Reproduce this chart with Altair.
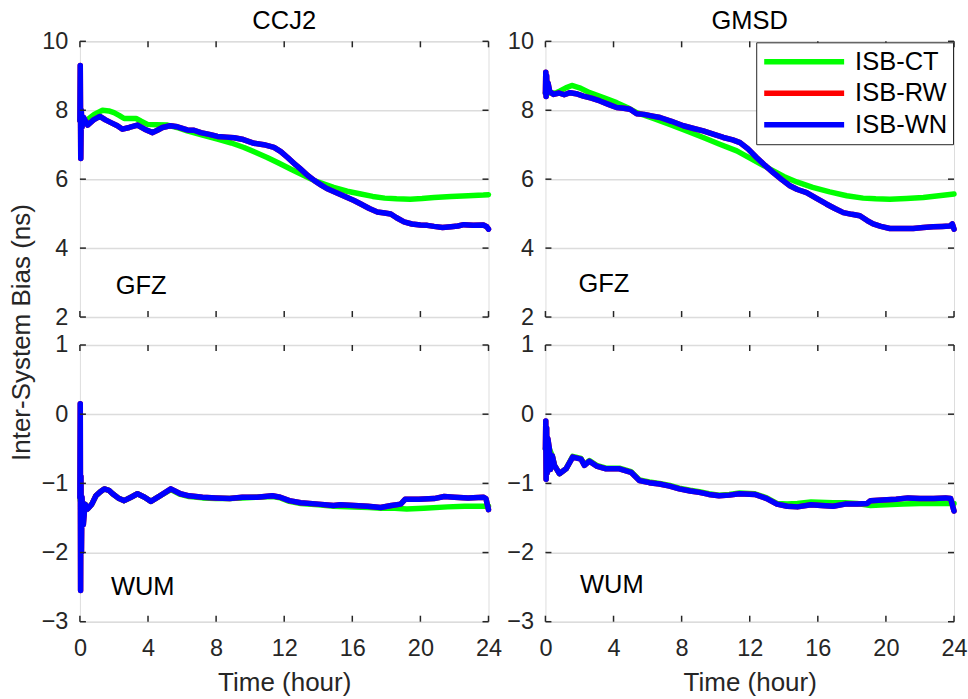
import altair as alt
import pandas as pd

FONT = "Liberation Sans"
INK = "#262626"

stations = ["CCJ2", "GMSD"]
series_names = ["ISB-CT", "ISB-RW", "ISB-WN"]
series_colors = ["#00ff00", "#ff0000", "#0000ff"]
x_ticks = [0, 4, 8, 12, 16, 20, 24]
y_ticks_gfz = [2, 4, 6, 8, 10]
y_ticks_wum = [-3, -2, -1, 0, 1]

# ---- CCJ2 / GFZ ----
ccj2_gfz_ct = [(0, 7.7), (0.1, 7.8), (0.3, 7.7), (0.5, 7.75), (0.84, 7.88), (1.33, 8.0), (1.7, 7.98),
               (2.0, 7.93), (2.3, 7.85), (2.6, 7.76), (3.3, 7.76), (3.6, 7.68), (3.97, 7.59), (4.5, 7.58),
               (5.14, 7.57), (5.7, 7.5), (6.3, 7.4), (7.2, 7.28), (8.08, 7.16), (8.9, 7.05), (9.64, 6.92),
               (10.3, 6.78), (11.0, 6.63), (11.7, 6.46), (12.4, 6.29), (13.1, 6.12), (13.8, 5.95),
               (14.9, 5.76), (15.7, 5.65), (16.5, 5.57), (17.2, 5.5), (17.9, 5.45), (18.6, 5.43),
               (19.4, 5.42), (20.1, 5.44), (20.8, 5.47), (21.8, 5.5), (22.8, 5.52), (23.7, 5.54), (24, 5.55)]
ccj2_gfz_wn = [(0, 7.7), (0.02, 9.3), (0.05, 6.6), (0.08, 8.0), (0.12, 7.5), (0.2, 7.8), (0.45, 7.57),
               (0.8, 7.72), (1.17, 7.82), (1.5, 7.72), (1.82, 7.64), (2.2, 7.55), (2.5, 7.45), (2.9, 7.5),
               (3.38, 7.57), (3.8, 7.45), (4.27, 7.35), (4.55, 7.42), (4.85, 7.5), (5.3, 7.55), (5.73, 7.52),
               (6.3, 7.43), (6.7, 7.42), (7.1, 7.35), (7.6, 7.3), (8.08, 7.24), (8.6, 7.22), (9.06, 7.2),
               (9.6, 7.15), (10.23, 7.04), (10.8, 7.0), (11.4, 6.92), (11.8, 6.8), (12.2, 6.63),
               (12.6, 6.45), (12.97, 6.29), (13.4, 6.1), (13.8, 5.95), (14.2, 5.82), (14.5, 5.73),
               (15.1, 5.6), (15.7, 5.47), (16.1, 5.38), (16.5, 5.28), (17.0, 5.15), (17.47, 5.05),
               (17.9, 5.02), (18.26, 4.99), (18.6, 4.88), (19.04, 4.76), (19.5, 4.7), (20.0, 4.67),
               (20.4, 4.66), (20.8, 4.63), (21.3, 4.6), (21.8, 4.62), (22.2, 4.64), (22.55, 4.68),
               (23.1, 4.66), (23.7, 4.67), (23.9, 4.62), (24, 4.55)]
ccj2_gfz_rw = list(ccj2_gfz_wn)

# ---- GMSD / GFZ ----
gmsd_gfz_ct = [(0, 8.5), (0.3, 8.5), (0.6, 8.5), (0.86, 8.56), (1.2, 8.65), (1.55, 8.72), (2.0, 8.65),
               (2.6, 8.51), (3.4, 8.37), (4.18, 8.22), (4.8, 8.08), (5.36, 7.93), (6.3, 7.77), (7.3, 7.59),
               (8.3, 7.4), (9.27, 7.21), (10.2, 7.02), (11.24, 6.82), (12.2, 6.56), (13.2, 6.29),
               (14.0, 6.08), (14.76, 5.92), (15.7, 5.76), (16.7, 5.63), (17.7, 5.52), (18.66, 5.45),
               (19.4, 5.43), (20.23, 5.42), (21.2, 5.44), (22.2, 5.47), (23.1, 5.52), (24, 5.57)]
gmsd_gfz_wn = [(0, 8.5), (0.02, 9.1), (0.04, 8.4), (0.07, 9.0), (0.1, 8.5), (0.15, 8.8), (0.25, 8.55),
               (0.47, 8.46), (0.8, 8.5), (1.1, 8.45), (1.45, 8.51), (1.8, 8.48), (2.23, 8.41), (2.7, 8.35),
               (3.2, 8.27), (3.7, 8.17), (4.18, 8.08), (4.6, 8.06), (4.97, 8.03), (5.36, 7.9), (5.8, 7.88),
               (6.3, 7.83), (6.73, 7.79), (7.4, 7.68), (8.1, 7.55), (8.7, 7.47), (9.27, 7.4), (9.9, 7.3),
               (10.45, 7.21), (11.0, 7.14), (11.43, 7.06), (11.9, 6.88), (12.4, 6.63), (12.9, 6.4),
               (13.38, 6.19), (13.9, 5.98), (14.36, 5.81), (14.8, 5.7), (15.34, 5.61), (15.9, 5.45),
               (16.5, 5.28), (17.0, 5.15), (17.5, 5.03), (18.0, 4.98), (18.47, 4.94), (18.9, 4.8),
               (19.25, 4.7), (19.7, 4.63), (20.23, 4.57), (20.9, 4.57), (21.6, 4.57), (22.2, 4.6),
               (22.77, 4.62), (23.3, 4.63), (23.75, 4.64), (23.9, 4.7), (24, 4.55)]
gmsd_gfz_rw = list(gmsd_gfz_wn)

# ---- CCJ2 / WUM ----
ccj2_wum_ct = [(0, -1.2), (0.2, -1.5), (0.3, -1.3), (0.45, -1.37), (0.7, -1.3), (0.94, -1.18), (1.2, -1.12),
               (1.43, -1.08), (1.7, -1.1), (1.92, -1.15), (2.3, -1.22), (2.6, -1.25), (3.0, -1.2),
               (3.38, -1.15), (3.8, -1.2), (4.17, -1.26), (4.7, -1.18), (5.34, -1.09), (5.9, -1.16),
               (6.41, -1.19), (7.2, -1.21), (7.98, -1.22), (8.8, -1.22), (9.54, -1.21), (10.4, -1.2),
               (11.3, -1.19), (11.77, -1.21), (12.3, -1.26), (12.97, -1.29), (14.0, -1.31), (14.9, -1.33),
               (16.1, -1.34), (17.0, -1.35), (17.7, -1.36), (18.5, -1.36), (19.2, -1.37), (20.2, -1.36),
               (21.6, -1.34), (22.6, -1.33), (23.7, -1.33), (24, -1.33)]
ccj2_wum_wn = [(0, -1.2), (0.02, 0.15), (0.04, -2.55), (0.06, -0.9), (0.09, -2.0), (0.12, -1.2), (0.2, -1.6),
               (0.3, -1.3), (0.45, -1.37), (0.7, -1.3), (0.94, -1.18), (1.2, -1.12), (1.43, -1.08),
               (1.7, -1.1), (1.92, -1.15), (2.3, -1.22), (2.6, -1.25), (3.0, -1.2), (3.38, -1.15),
               (3.8, -1.2), (4.17, -1.26), (4.7, -1.18), (5.34, -1.08), (5.9, -1.15), (6.41, -1.18),
               (7.2, -1.2), (7.98, -1.21), (8.8, -1.22), (9.54, -1.2), (10.4, -1.2), (11.3, -1.18),
               (11.77, -1.2), (12.3, -1.25), (12.97, -1.28), (14.0, -1.3), (14.9, -1.32), (15.3, -1.31),
               (16.1, -1.32), (16.9, -1.33), (17.66, -1.35), (18.3, -1.32), (18.84, -1.3), (19.1, -1.23),
               (19.9, -1.23), (20.8, -1.22), (21.4, -1.19), (22.0, -1.2), (22.8, -1.21), (23.7, -1.2),
               (23.85, -1.22), (24, -1.38)]
ccj2_wum_rw = list(ccj2_wum_wn)

# ---- GMSD / WUM ----
gmsd_wum_ct = [(0, -0.5), (0.23, -0.5), (0.4, -0.6), (0.53, -0.74), (0.82, -0.86), (1.21, -0.79), (1.6, -0.61),
               (2.09, -0.64), (2.29, -0.73), (2.58, -0.67), (3.0, -0.74), (3.56, -0.78), (4.34, -0.78),
               (5.03, -0.83), (5.52, -0.95), (6.1, -0.98), (6.7, -1.0), (7.3, -1.03), (7.86, -1.07),
               (8.5, -1.1), (9.04, -1.12), (9.6, -1.15), (10.2, -1.17), (10.8, -1.16), (11.4, -1.14),
               (12.3, -1.15), (13.0, -1.21), (13.6, -1.29), (14.2, -1.3), (14.8, -1.29), (15.6, -1.27),
               (16.9, -1.28), (17.6, -1.28), (18.3, -1.29), (19.1, -1.32), (20.0, -1.31), (21.0, -1.3),
               (22.0, -1.29), (23.4, -1.29), (24, -1.29)]
gmsd_wum_wn = [(0, -0.5), (0.02, -0.1), (0.04, -0.94), (0.07, -0.2), (0.1, -0.85), (0.14, -0.35), (0.23, -0.5),
               (0.3, -0.8), (0.4, -0.6), (0.53, -0.74), (0.82, -0.86), (1.21, -0.79), (1.6, -0.62),
               (2.09, -0.65), (2.29, -0.74), (2.58, -0.68), (3.0, -0.75), (3.56, -0.79), (4.34, -0.79),
               (5.03, -0.84), (5.52, -0.96), (6.1, -0.99), (6.7, -1.01), (7.3, -1.04), (7.86, -1.08),
               (8.5, -1.11), (9.04, -1.13), (9.6, -1.16), (10.2, -1.18), (10.8, -1.17), (11.4, -1.15),
               (12.3, -1.16), (13.0, -1.22), (13.6, -1.3), (14.2, -1.33), (14.8, -1.34), (15.6, -1.31),
               (16.2, -1.32), (16.9, -1.33), (17.6, -1.3), (18.3, -1.3), (18.9, -1.29), (19.1, -1.25),
               (19.8, -1.24), (20.6, -1.23), (21.3, -1.21), (22.0, -1.22), (22.8, -1.22), (23.5, -1.21),
               (23.8, -1.22), (24, -1.4)]
gmsd_wum_rw = list(gmsd_wum_wn)

W, H_TOP, H_BOT = 409, 276, 277
TICK = 6


def to_df(ct, rw, wn):
    rows = []
    for name, pts in zip(series_names, [ct, rw, wn]):
        for t, v in pts:
            rows.append({"t": t, "v": v, "series": name})
    return pd.DataFrame(rows)


def panel(df, yticks, ydomain, height, label, label_x, label_y, title=None,
          bottom=False, legend=False, ytitle=False):
    if bottom:
        xaxis = alt.Axis(values=x_ticks, ticks=False, domain=False, grid=False, labelFontSize=23.5,
                         labelColor=INK, labelPadding=15, labelFlush=False, format="d",
                         title="Time (hour)", titleFontSize=26,
                         titleFontWeight="normal", titleColor=INK, titlePadding=9)
    else:
        xaxis = alt.Axis(values=x_ticks, labels=False, ticks=False, domain=False, grid=False, title=None)
    yargs = dict(values=yticks, ticks=False, domain=False, grid=True, gridColor="#dcdcdc", gridWidth=1.5,
                 labelFontSize=23.5, labelColor=INK, labelPadding=12, labelFlush=False, format="d")
    if ytitle:
        yaxis = alt.Axis(title="Inter-System Bias (ns)", titleX=-58, titleY=291, titleAngle=270,
                         titleAlign="center", titleBaseline="middle", titleFontSize=26,
                         titleFontWeight="normal", titleColor=INK, **yargs)
    else:
        yaxis = alt.Axis(title=None, **yargs)

    if legend:
        leg = alt.Legend(title=None, orient="top-right", offset=1, symbolType="stroke", symbolSize=6400,
                         symbolStrokeWidth=5.5, labelFontSize=25.5, labelFont=FONT, labelColor="black",
                         strokeColor=INK, fillColor="white", padding=5, labelOffset=8, rowPadding=2.5,
                         clipHeight=29, cornerRadius=0)
    else:
        leg = None

    xs = alt.Scale(domain=[0, 24], nice=False, zero=False)
    ys = alt.Scale(domain=ydomain, nice=False, zero=False)

    lines = alt.Chart(df).mark_line(strokeWidth=5.5, strokeJoin="round", strokeCap="round").encode(
        x=alt.X("t:Q", scale=xs, axis=xaxis),
        y=alt.Y("v:Q", scale=ys, axis=yaxis),
        color=alt.Color("series:N", scale=alt.Scale(domain=series_names, range=series_colors), legend=leg),
    )
    xt = pd.DataFrame({"t": x_ticks})
    yt = pd.DataFrame({"v": yticks})
    tick_style = dict(color=INK, strokeWidth=1.5)
    xtop = alt.Chart(xt).mark_rule(**tick_style).encode(x="t:Q", y=alt.value(0), y2=alt.value(TICK))
    xbot = alt.Chart(xt).mark_rule(**tick_style).encode(x="t:Q", y=alt.value(height), y2=alt.value(height - TICK))
    yleft = alt.Chart(yt).mark_rule(**tick_style).encode(y="v:Q", x=alt.value(0), x2=alt.value(TICK))
    yright = alt.Chart(yt).mark_rule(**tick_style).encode(y="v:Q", x=alt.value(W), x2=alt.value(W - TICK))
    text = alt.Chart(pd.DataFrame({"label": [label]})).mark_text(
        align="left", baseline="middle", fontSize=25.5, font=FONT, color="black"
    ).encode(x=alt.datum(label_x), y=alt.datum(label_y), text="label:N")

    ch = alt.layer(lines, xtop, xbot, yleft, yright, text).properties(width=W, height=height)
    if title:
        ch = ch.properties(title=alt.TitleParams(title, fontSize=25.5, fontWeight="normal", font=FONT,
                                                 color="black", offset=-5, anchor="middle"))
    return ch


tl = panel(to_df(ccj2_gfz_ct, ccj2_gfz_rw, ccj2_gfz_wn), y_ticks_gfz, [2, 10], H_TOP, "GFZ", 2.1, 2.9,
           title=stations[0], ytitle=True)
tr = panel(to_df(gmsd_gfz_ct, gmsd_gfz_rw, gmsd_gfz_wn), y_ticks_gfz, [2, 10], H_TOP, "GFZ", 1.94, 2.97,
           title=stations[1], legend=True)
bl = panel(to_df(ccj2_wum_ct, ccj2_wum_rw, ccj2_wum_wn), y_ticks_wum, [-3, 1], H_BOT, "WUM", 1.82, -2.5,
           bottom=True)
br = panel(to_df(gmsd_wum_ct, gmsd_wum_rw, gmsd_wum_wn), y_ticks_wum, [-3, 1], H_BOT, "WUM", 2.03, -2.47,
           bottom=True)

chart = alt.concat(tl, tr, bl, br, columns=2, spacing={"row": 28, "column": 57}, bounds="flush").resolve_scale(
    color="independent", x="independent", y="independent"
).properties(
    padding={"left": 8, "top": 8, "right": 0, "bottom": 0}
).configure_view(stroke=INK, strokeWidth=1.5).configure_axis(
    labelFont=FONT, titleFont=FONT
).configure(background="white")

chart.save("out.html", embed_options={"renderer": "svg", "actions": False})
